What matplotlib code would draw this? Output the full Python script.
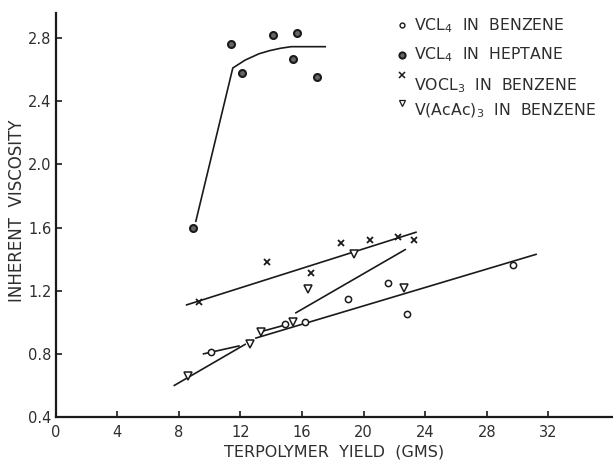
import matplotlib
matplotlib.use("Agg")
import matplotlib.pyplot as plt

# Inherent viscosity vs. terpolymer yield for four catalyst systems
vcl4_benz_x = [10.1, 14.9, 16.2, 19.0, 21.6, 22.8, 29.7]
vcl4_benz_y = [0.81, 0.99, 1.00, 1.15, 1.25, 1.05, 1.36]

vcl4_hept_x = [8.9, 11.4, 12.1, 14.1, 15.4, 15.7, 17.0]
vcl4_hept_y = [1.60, 2.76, 2.58, 2.82, 2.67, 2.83, 2.55]

vocl3_x = [9.3, 13.7, 16.6, 18.5, 20.4, 22.2, 23.3]
vocl3_y = [1.13, 1.38, 1.31, 1.50, 1.52, 1.54, 1.52]

vacac_x = [8.6, 12.6, 13.3, 15.4, 16.4, 19.4, 22.6]
vacac_y = [0.66, 0.86, 0.94, 1.00, 1.21, 1.43, 1.22]

# hand-drawn trend lines (segments between end points)
hept_curve_x = [9.1, 11.5, 12.3, 13.2, 13.9, 14.6, 15.3, 16.2, 17.5]
hept_curve_y = [1.64, 2.61, 2.66, 2.70, 2.72, 2.735, 2.745, 2.745, 2.745]

vocl3_fit_x = [8.5, 23.4]
vocl3_fit_y = [1.11, 1.57]

benz_fit_a_x = [9.6, 11.9]
benz_fit_a_y = [0.80, 0.85]
benz_fit_b_x = [13.0, 31.2]
benz_fit_b_y = [0.90, 1.43]

vacac_fit_a_x = [7.7, 12.3]
vacac_fit_a_y = [0.60, 0.86]
vacac_fit_b_x = [13.3, 14.8]
vacac_fit_b_y = [0.94, 0.98]
vacac_fit_c_x = [15.6, 22.7]
vacac_fit_c_y = [1.06, 1.46]

x_ticks = [0, 4, 8, 12, 16, 20, 24, 28, 32]
y_ticks = [0.4, 0.8, 1.2, 1.6, 2.0, 2.4, 2.8]

legend_labels = [
    "VCL$_4$  IN  BENZENE",
    "VCL$_4$  IN  HEPTANE",
    "VOCL$_3$  IN  BENZENE",
    "V(AcAc)$_3$  IN  BENZENE",
]

ink = "#1a1a1a"
text_col = "#2e2e2e"
plt.rcParams["font.family"] = ["DejaVu Sans"]

fig = plt.figure(figsize=(6.13, 4.61), dpi=100)
ax = fig.add_axes([0.091, 0.0954, 0.909, 0.877])

lw = 1.2
ax.plot(hept_curve_x, hept_curve_y, color=ink, lw=lw)
ax.plot(vocl3_fit_x, vocl3_fit_y, color=ink, lw=lw)
for fx, fy in [(benz_fit_a_x, benz_fit_a_y), (benz_fit_b_x, benz_fit_b_y),
               (vacac_fit_a_x, vacac_fit_a_y), (vacac_fit_b_x, vacac_fit_b_y),
               (vacac_fit_c_x, vacac_fit_c_y)]:
    ax.plot(fx, fy, color=ink, lw=lw)

ax.plot(vcl4_benz_x, vcl4_benz_y, "o", ms=4.5, mfc="white", mec=ink, mew=1.1,
        ls="none", zorder=3)
ax.plot(vcl4_hept_x, vcl4_hept_y, "o", ms=5, mfc="#666666", mec=ink, mew=1.5,
        ls="none", zorder=3)
ax.plot(vocl3_x, vocl3_y, "x", ms=5, mec=ink, mew=1.3, ls="none", zorder=3)
ax.plot(vacac_x, vacac_y, "v", ms=6, mfc="white", mec=ink, mew=1.1,
        ls="none", zorder=3)

ax.set_xlim(0, 36.2)
ax.set_ylim(0.4, 2.96)
ax.set_xticks(x_ticks)
ax.set_xticklabels([str(t) for t in x_ticks])
ax.set_yticks(y_ticks)
ax.set_yticklabels([f"{t:.1f}" for t in y_ticks])
ax.tick_params(direction="in", length=4, width=1.2, colors=ink,
               labelsize=10.5, labelcolor=text_col)
ax.tick_params(axis="x", pad=6)
ax.tick_params(axis="y", pad=3)

for side in ("top", "right"):
    ax.spines[side].set_visible(False)
for side in ("left", "bottom"):
    ax.spines[side].set_linewidth(1.6)
    ax.spines[side].set_color(ink)

ax.set_xlabel("TERPOLYMER  YIELD  (GMS)", fontsize=11.5, color=text_col)
ax.set_ylabel("INHERENT  VISCOSITY", fontsize=12, color=text_col)
ax.xaxis.set_label_coords(0.50, -0.068)
ax.yaxis.set_label_coords(-0.054, 0.51)

# legend written as a column of labelled symbols at the upper right
leg_styles = [
    dict(marker="o", ms=3.5, mfc="white", mec=ink, mew=1.0),
    dict(marker="o", ms=4.5, mfc="#666666", mec=ink, mew=1.4),
    dict(marker="x", ms=4, mec=ink, mew=1.1),
    dict(marker="v", ms=4, mfc="white", mec=ink, mew=0.9),
]
leg_text_y = [0.968, 0.896, 0.819, 0.757]
leg_mark_y = [0.970, 0.896, 0.847, 0.777]
for label, style, ty, my in zip(legend_labels, leg_styles, leg_text_y, leg_mark_y):
    ax.plot([0.622], [my], transform=ax.transAxes, clip_on=False,
            ls="none", **style)
    ax.text(0.643, ty, label, transform=ax.transAxes, fontsize=11.3,
            color=text_col, va="center", ha="left")

fig.savefig("out.png", dpi=100, facecolor="white")
